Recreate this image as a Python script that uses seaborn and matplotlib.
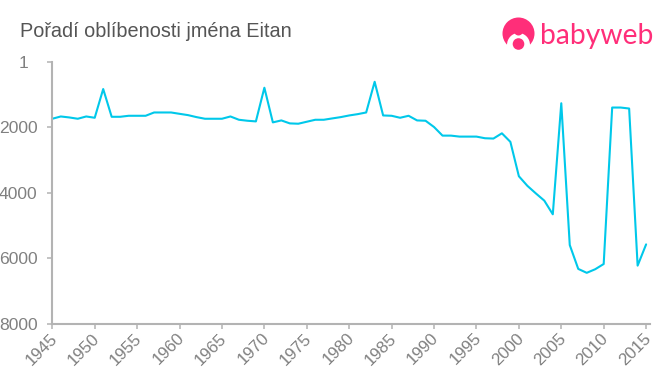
import seaborn as sns
import matplotlib.pyplot as plt
from matplotlib.patches import Circle, Ellipse
from matplotlib.transforms import ScaledTranslation
import pandas as pd

# Data
years = list(range(1945, 2016))
ranks = [1737, 1667, 1697, 1737, 1667, 1707, 828, 1677, 1677, 1646,
         1646, 1646, 1545, 1545, 1545, 1586, 1626, 1687, 1737, 1737,
         1737, 1667, 1768, 1798, 1818, 788, 1848, 1788, 1879, 1889,
         1828, 1768, 1768, 1727, 1687, 1636, 1596, 1545, 606, 1636,
         1646, 1707, 1646, 1788, 1798, 1990, 2253, 2253, 2283, 2283,
         2283, 2333, 2343, 2182, 2444, 3495, 3788, 4020, 4242, 4660,
         1263, 5600, 6330, 6450, 6340, 6180, 1394, 1394, 1424, 6230, 5580]
x_ticks = list(range(1945, 2016, 5))
y_ticks = [1, 2000, 4000, 6000, 8000]
title = "Pořadí oblíbenosti jména Eitan"
logo_text = "babyweb"

df = pd.DataFrame({"year": years, "rank": ranks})

sns.set_style("white")
plt.rcParams["font.family"] = ["Liberation Sans", "DejaVu Sans"]

fig = plt.figure(figsize=(6.6, 3.75), dpi=100)
ax = fig.add_axes([52.3 / 660, 1 - 323.5 / 375, (649.5 - 52.3) / 660, (323.5 - 62) / 375])

# Line
sns.lineplot(data=df, x="year", y="rank", color="#00c8ea", linewidth=1.5, ax=ax)

# Axes
ax.set_xlim(1945, 2015.4)
ax.set_ylim(8000, 1)
ax.set_xticks(x_ticks)
ax.set_yticks(y_ticks)
ax.set_xlabel("")
ax.set_ylabel("")
sns.despine(ax=ax)
for side in ["left", "bottom"]:
    ax.spines[side].set_color("#b3b3b3")
    ax.spines[side].set_linewidth(1.5)
ax.tick_params(axis="both", length=3.5, width=1.1, color="#b3b3b3", labelcolor="#808080",
               labelsize=12.6, left=True, bottom=True, pad=3)
ax.tick_params(axis="y", pad=7)
ax.tick_params(axis="x", labelsize=12.2, pad=3)
plt.setp(ax.get_xticklabels(), rotation=45, ha="right", rotation_mode="anchor")

# x labels sit a little up and left of the default spot
shift = ScaledTranslation(-3 / 100, 2 / 100, fig.dpi_scale_trans)
for label in ax.get_xticklabels():
    label.set_transform(label.get_transform() + shift)

# the "1" sits further left than the other y labels
first = ax.get_yticklabels()[0]
first.set_transform(first.get_transform() + ScaledTranslation(-9 / 100, 0, fig.dpi_scale_trans))

fig.text(20 / 660, 1 - 37 / 375, title, fontsize=14.35, color="#555555")

# Logo, in pixel coordinates
logo = fig.add_axes([0, 0, 1, 1], zorder=5)
logo.set_xlim(0, 660)
logo.set_ylim(375, 0)
logo.axis("off")
pink = "#ff2e79"
logo.add_patch(Circle((518.5, 33.5), 16, color=pink, lw=0))
logo.add_patch(Ellipse((518.5, 45), 23, 24, color="white", lw=0))
logo.add_patch(Circle((518.5, 31), 4.5, color=pink, lw=0))
logo.add_patch(Circle((518.5, 44), 5.8, color=pink, lw=0))
logo.text(540, 44, logo_text, fontsize=20.3, color=pink, family="Lato", ha="left", va="baseline")

plt.savefig("out.png", dpi=100)
plt.show()
